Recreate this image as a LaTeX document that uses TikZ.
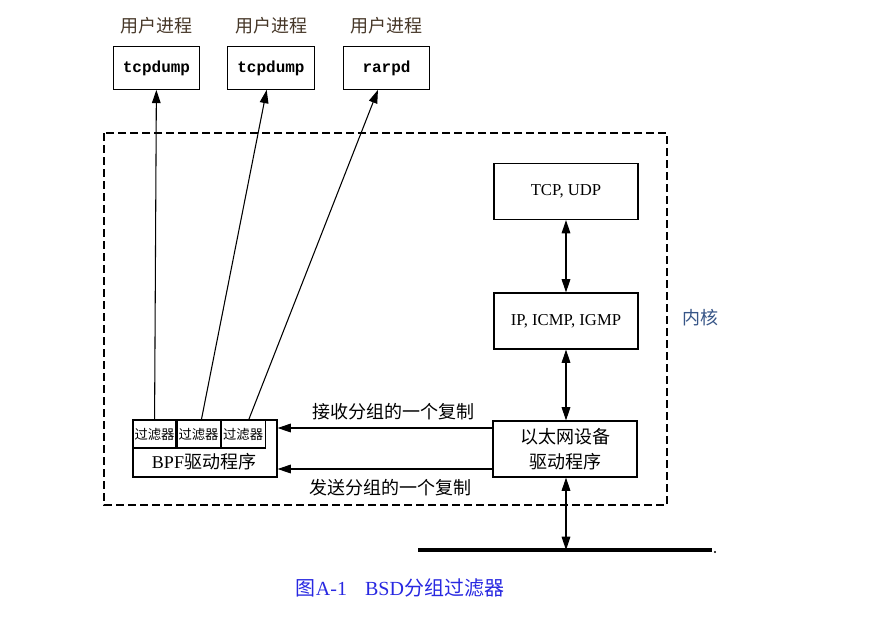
\documentclass[tikz,border=0pt]{standalone}
\usepackage{fontspec}
\setmainfont{Liberation Serif}
\setmonofont{Liberation Mono}
\newfontfamily\cjk{Noto Sans CJK SC}
\usetikzlibrary{arrows.meta, positioning}
\definecolor{proccol}{RGB}{70,55,40}
\definecolor{kerncol}{RGB}{55,85,135}
\definecolor{capcol}{RGB}{40,40,225}
\tikzset{
    box/.style={draw, line width=0.8pt, inner sep=0pt, align=center},
    arr/.style={-{Triangle[length=10pt,width=6.5pt]}, line width=0.8pt},
    darr/.style={{Triangle[length=10pt,width=6.5pt]}-{Triangle[length=10pt,width=6.5pt]}, line width=0.8pt},
    zh/.style={font=\cjk\fontsize{13.5}{16}\selectfont},
    filt/.style={box, minimum width=32.25pt, minimum height=21pt, font=\cjk\fontsize{10}{12}\selectfont},
}
\newcommand{\drawP}[3]{
    \node[box, minimum width=65pt, minimum height=32pt, font=\ttfamily\bfseries\fontsize{12}{14}\selectfont] (#3) at (#1,68) {#2};
    \node[zh, text=proccol] (#3lbl) at (#1,26) {用户进程};
}
\newcommand{\drawK}[3]{
    \node[box, minimum width=108pt, minimum height=42pt, font=\fontsize{12.5}{15}\selectfont] (#3) at (566,#1) {#2};
}

\begin{document}
\begin{tikzpicture}[x=0.75pt, y=-0.75pt]
    \useasboundingbox (0,0) rectangle (871,618);
    % Kernel
        \draw[line width=0.8pt, dash pattern=on 6pt off 3pt] (104,133) rectangle (667,505);
        \node[zh, text=kerncol] (kern) at (700,318) {内核};

    % User processes
        \drawP{156.5}{tcpdump}{u1}
        \drawP{271}{tcpdump}{u2}
        \drawP{386.5}{rarpd}{u3}

    % Protocol stack
        \drawK{191.5}{TCP, UDP}{tcp}
        \drawK{321}{IP, ICMP, IGMP}{ip}
        \node[box, minimum width=108pt, minimum height=42pt, font=\cjk\fontsize{13.5}{19}\selectfont] (eth) at (565,449) {以太网设备\\驱动程序};

    % BPF
        \node[box, minimum width=108pt, minimum height=42.75pt] (bpf) at (205,448.5) {};
        \node[filt, anchor=north west] (f1) at (bpf.north west) {过滤器};
        \node[filt, right=0pt of f1] (f2) {过滤器};
        \node[filt, right=0pt of f2, minimum width=33pt] (f3) {过滤器};
        \node[font=\fontsize{13.5}{16}\selectfont] (bpflbl) at (204,462) {BPF{\cjk 驱动程序}};

    % Wire
        \coordinate (wl) at (418,550);
        \coordinate (wr) at (712,550);
        \draw[line width=3pt] (wl) -- (wr);
        \fill (715,552) circle (0.9pt);

    % Edges
        \draw[arr] (f1) -- (u1);
        \draw[arr] (f2) -- (u2);
        \draw[arr] (f3) -- (u3);
        \draw[darr] (tcp) -- (ip);
        \draw[darr] (ip) -- (ip |- eth.north);
        \draw[darr] (ip |- eth.south) -- (ip |- wl);
        \draw[arr] ([yshift=15.75pt]eth.west) coordinate (rc) -- (rc -| bpf.east);
        \draw[arr] ([yshift=-15pt]eth.west) coordinate (sd) -- (sd -| bpf.east);
        \node[zh] (rclbl) at (393,412) {接收分组的一个复制};
        \node[zh] (sdlbl) at (390,488) {发送分组的一个复制};

    % Caption
        \node[text=capcol, font=\fontsize{15}{18}\selectfont] (cap) at (400,588) {{\cjk 图}A-1\hspace{0.9em}BSD{\cjk 分组过滤器}};
\end{tikzpicture}
\end{document}
